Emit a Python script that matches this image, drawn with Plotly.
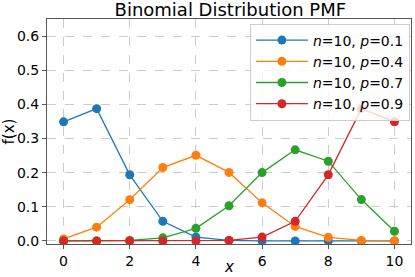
import plotly.graph_objects as go

k = list(range(11))
p01 = [0.3487, 0.3874, 0.1937, 0.0574, 0.0112, 0.0015, 0.0001, 0.0000, 0.0000, 0.0000, 0.0000]
p04 = [0.0060, 0.0403, 0.1209, 0.2150, 0.2508, 0.2007, 0.1115, 0.0425, 0.0106, 0.0016, 0.0001]
p07 = [0.0000, 0.0001, 0.0014, 0.0090, 0.0368, 0.1029, 0.2001, 0.2668, 0.2335, 0.1211, 0.0282]
p09 = [0.0000, 0.0000, 0.0000, 0.0000, 0.0001, 0.0015, 0.0112, 0.0574, 0.1937, 0.3874, 0.3487]
series = [("0.1", p01, "#1f77b4"), ("0.4", p04, "#ff7f0e"),
          ("0.7", p07, "#2ca02c"), ("0.9", p09, "#d62728")]

fig = go.Figure()
for p, ys, c in series:
    fig.add_trace(go.Scatter(
        x=k, y=ys, mode="lines+markers",
        name=f"<i>n</i>=10, <i>p</i>={p}",
        line=dict(color=c, width=1.3),
        marker=dict(color=c, size=9),
    ))

font = "DejaVu Sans"
fig.update_layout(
    width=415, height=277,
    margin=dict(l=44, r=3, t=19, b=33),
    paper_bgcolor="white", plot_bgcolor="white",
    font=dict(family=font, size=14, color="black"),
    title=dict(text="Binomial Distribution PMF", x=0.555, xanchor="center",
               yref="container", y=0.966, yanchor="middle", font=dict(size=18)),
    showlegend=True,
    legend=dict(x=0.997, y=0.98, xanchor="right", yanchor="top",
                bgcolor="rgba(255,255,255,0.8)", bordercolor="#cccccc",
                borderwidth=1, font=dict(size=14), tracegroupgap=0,
                itemwidth=52),
    annotations=[dict(text="<i>x</i>", xref="paper", yref="paper", x=0.5, y=0,
                      yshift=-23, xanchor="center", yanchor="middle",
                      showarrow=False, font=dict(size=15))],
)
fig.update_xaxes(range=[-0.5, 10.5], tickvals=[0, 2, 4, 6, 8, 10],
                 showgrid=True, gridcolor="#cccccc", griddash="dash", gridwidth=1,
                 zeroline=False, showline=True, linecolor="#555", mirror=True,
                 ticks="outside", ticklen=4, tickcolor="#555")
fig.update_yaxes(range=[-0.009, 0.65], tickvals=[0, 0.1, 0.2, 0.3, 0.4, 0.5, 0.6],
                 tickformat=".1f",
                 showgrid=True, gridcolor="#cccccc", griddash="dash", gridwidth=1,
                 zeroline=False, showline=True, linecolor="#555", mirror=True,
                 ticks="outside", ticklen=4, tickcolor="#555",
                 title=dict(text="f(x)", standoff=3, font=dict(size=15)))

fig.write_html("out.html", config={"displayModeBar": False},
               post_script="document.body.style.margin='0px';")
